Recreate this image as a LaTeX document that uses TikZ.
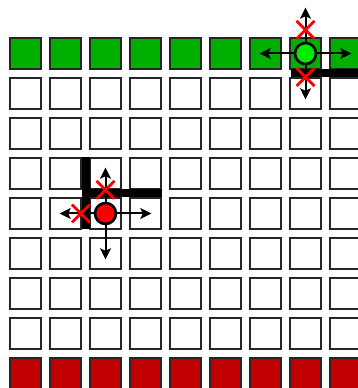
\documentclass[tikz,border=0pt]{standalone}
\usepackage{xcolor}
\usetikzlibrary{positioning, arrows.meta, shapes.misc}

\definecolor{goalgreen}{RGB}{0,176,0}
\definecolor{lavared}{RGB}{192,0,0}
\definecolor{botgreen}{RGB}{0,235,0}
\definecolor{botred}{RGB}{250,0,0}

\begin{document}
\begin{tikzpicture}[x=1pt, y=1pt,
    cell/.style={draw=black!85, line width=1.7pt, minimum size=31.5pt, inner sep=0pt},
    wall/.style={line width=8pt},
    move/.style={-{Stealth[length=11pt, width=11pt, inset=2.5pt]}, line width=2pt},
    blocked/.style={cross out, draw=red, line width=2.8pt, minimum size=15pt, inner sep=0pt},
    agent/.style={circle, draw, line width=2.6pt, minimum size=21pt, inner sep=0pt}]
        \useasboundingbox (0,0) rectangle (357,388);

        % Grid: goal row on top, lava row at the bottom
        \foreach \i in {0,...,8} {
            \node[cell, fill=goalgreen] (c-\i-0) at (25.5+40*\i, 334.5) {};
            \foreach \j in {1,...,7} {
                \node[cell] (c-\i-\j) at (25.5+40*\i, 334.5-40*\j) {};
            }
            \node[cell, fill=lavared] (c-\i-8) at (25.5+40*\i, 14.5) {};
        }

        % Walls
        \draw[wall] (290.5,315) -- (362,315);
        \draw[wall] (86,231) -- (86,158.5);
        \draw[wall] (82,194.5) -- (162,194.5);

        % Agents
        \node[agent, fill=botgreen] (greenbot) at (c-7-0) {};
        \node[agent, fill=botred] (redbot) at (c-2-4) {};

        % Move targets
        \foreach \b in {greenbot, redbot} {
            \coordinate[above=34pt of \b] (\b-up);
            \coordinate[below=34pt of \b] (\b-down);
            \coordinate[left=34pt of \b] (\b-left);
            \coordinate[right=34pt of \b] (\b-right);
            \foreach \d in {up, down, left, right}
                \draw[move] (\b) -- (\b-\d);
        }

        % Blocked moves
        \node[blocked, above=3pt of greenbot] (greenbot-noup) {};
        \node[blocked, below=3pt of greenbot] (greenbot-nodown) {};
        \node[blocked, above=3pt of redbot] (redbot-noup) {};
        \node[blocked, left=4pt of redbot] (redbot-noleft) {};
\end{tikzpicture}
\end{document}
